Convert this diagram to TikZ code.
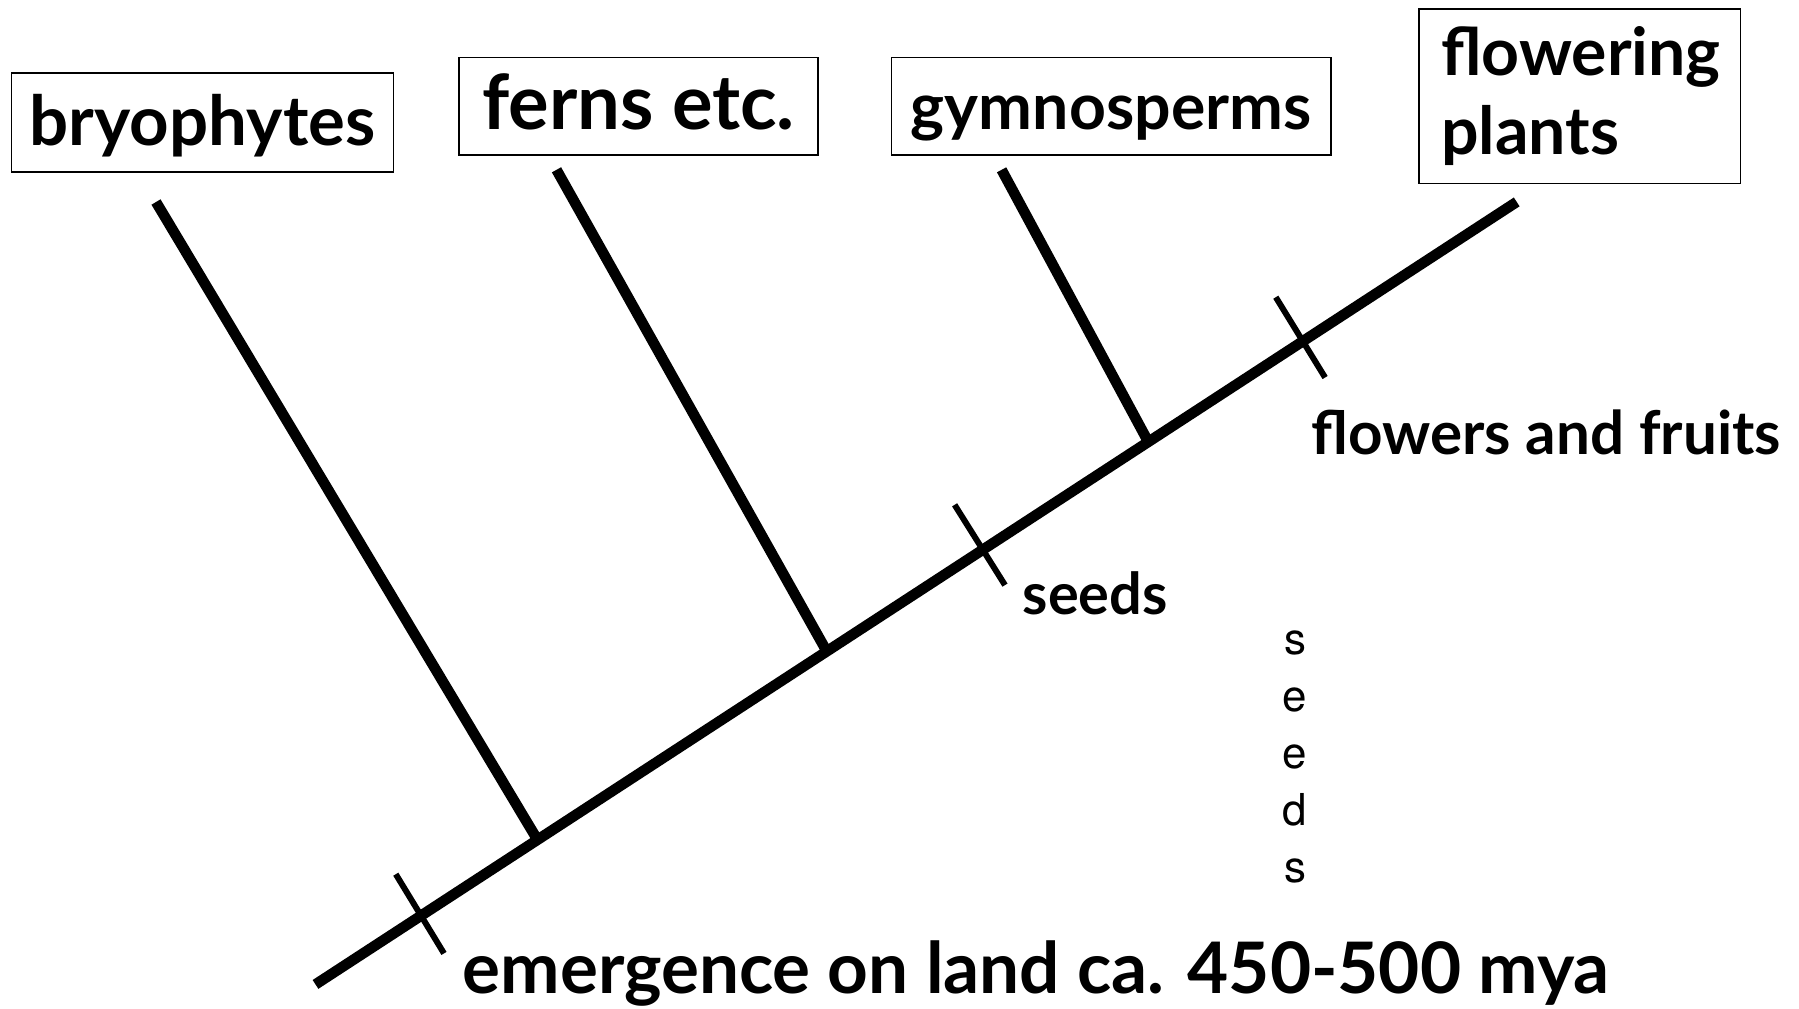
\documentclass[tikz,border=0pt]{standalone}
\usepackage{fontspec}
\setmainfont{Lato}
\newfontfamily\helvfont{TeX Gyre Heros}
\usetikzlibrary{calc}
\newcommand{\labelsize}[1]{\bfseries\fontsize{#1}{22.5}\selectfont}
\tikzset{
  taxon/.style={rectangle, draw=black, line width=0.5pt, inner sep=0pt},
  oneline/.style={taxon, text height=13pt, text depth=0pt},
  branch/.style={line width=3pt},
  tickmark/.style={line width=1.7pt},
  trait/.style={anchor=base west, inner sep=0pt}
}

\begin{document}
\begin{tikzpicture}[x=0.01cm, y=-0.01cm]
  \useasboundingbox (0,0) rectangle (1799,1008);
  % Taxa boxes
  \node[oneline, minimum width=3.82cm, minimum height=0.99cm, font=\labelsize{19.6}] (bryo) at (202.5,122.8) {bryophytes};
  \node[oneline, minimum width=3.59cm, minimum height=0.975cm, font=\labelsize{21.6}] (ferns) at (638.5,106.2) {ferns etc.};
  \node[oneline, minimum width=4.39cm, minimum height=0.975cm, font=\labelsize{18.3}] (gymno) at (1111.2,106.2) {gymnosperms};
  \node[taxon, inner xsep=0.22cm, text width=2.77cm, align=left,
    minimum height=1.74cm, font=\labelsize{18.8}] (angio) at (1579.9,96.4) {flowering\\plants};
  % Trunk
  \coordinate (root) at (315.5,984.4);
  \coordinate (tip) at (1516.7,201.9);
  \draw[branch] (root) -- (tip);
  % Side branches
  \coordinate (bryotop) at (156,202);
  \coordinate (bryojoin) at (537,839);
  \coordinate (fernstop) at (556.5,169.8);
  \coordinate (fernsjoin) at (826,650);
  \coordinate (gymnotop) at (1001.6,169.8);
  \coordinate (gymnojoin) at (1147.3,440);
  \draw[branch] (bryotop) -- (bryojoin);
  \draw[branch] (fernstop) -- (fernsjoin);
  \draw[branch] (gymnotop) -- (gymnojoin);
  % Trait ticks
  \coordinate (landa) at (395.8,874.2);
  \coordinate (landb) at (444,953.4);
  \coordinate (seeda) at (954.6,504.8);
  \coordinate (seedb) at (1005,585.1);
  \coordinate (flowa) at (1275.8,297.2);
  \coordinate (flowb) at (1325.1,377.5);
  \draw[tickmark] (landa) -- (landb);
  \draw[tickmark] (seeda) -- (seedb);
  \draw[tickmark] (flowa) -- (flowb);
  % Trait labels
  \node[trait, font=\labelsize{17.1}] (flowlbl) at (1311,454) {flowers and fruits};
  \node[trait, font=\labelsize{16.4}] (seedlbl) at (1022,614) {seeds};
  \node[trait, font=\labelsize{20.2}] (landlbl) at (462,993.6) {emergence on land ca. 450-500 mya};
  \node[align=center, inner sep=0pt, font=\helvfont\fontsize{12.5}{16.2}\selectfont]
    (seedcol) at (1295,757) {s\\e\\e\\d\\s};
\end{tikzpicture}
\end{document}
